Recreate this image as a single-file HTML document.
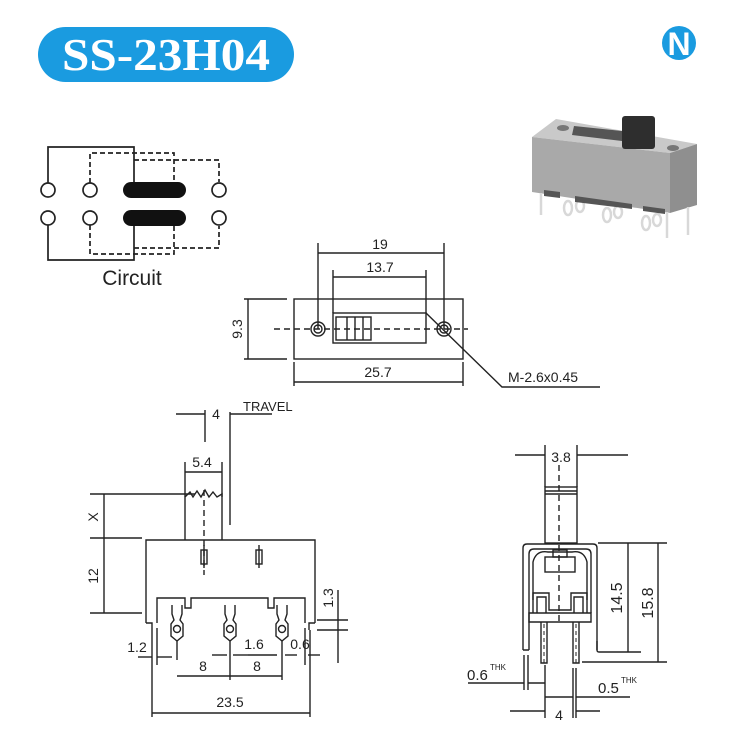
<!DOCTYPE html>
<html><head><meta charset="utf-8"><style>
html,body{margin:0;padding:0;background:#fff;}
svg{display:block;}
text{font-family:"Liberation Sans",sans-serif;fill:#222;}
</style></head><body>
<svg width="735" height="744" viewBox="0 0 735 744" xmlns="http://www.w3.org/2000/svg">
<defs>
<marker id="a" viewBox="0 0 10 10" refX="10" refY="5" markerWidth="8" markerHeight="6" orient="auto-start-reverse" markerUnits="userSpaceOnUse"><path d="M0,1 L10,5 L0,9 z" fill="#222"/></marker>
</defs>
<!-- header -->
<rect x="38" y="27" width="256" height="55" rx="27.5" fill="#1a9be0"/>
<text x="166" y="70" text-anchor="middle" textLength="208" lengthAdjust="spacingAndGlyphs" style="font-family:'Liberation Serif',serif;font-weight:bold;font-size:46px;fill:#fff">SS-23H04</text>
<circle cx="679" cy="43" r="17" fill="#1a9be0"/>
<text x="679" y="55" text-anchor="middle" style="font-family:'Liberation Sans',sans-serif;font-weight:bold;font-size:32px;fill:#fff">N</text>

<g stroke="#222" stroke-width="1.7" fill="none">
<!-- circuit -->
<circle cx="48" cy="190" r="7"/><circle cx="90" cy="190" r="7"/><circle cx="219" cy="190" r="7"/>
<circle cx="48" cy="218" r="7"/><circle cx="90" cy="218" r="7"/><circle cx="219" cy="218" r="7"/>
<path d="M48,183 V147 H134 V182" marker-start="a" marker-end="a"/>
<path d="M48,225 V260 H134 V226" marker-start="a" marker-end="a"/>
<g stroke-dasharray="5,3">
<path d="M90,183 V153 H174 V182" marker-start="a"/>
<path d="M134,160 H219 V182" marker-end="a"/>
<path d="M90,225 V254 H174 V226" marker-start="a"/>
<path d="M134,248 H219 V226" marker-end="a"/>
</g>
</g>
<rect x="123" y="182" width="63" height="16" rx="8" fill="#111"/>
<rect x="123" y="210" width="63" height="16" rx="8" fill="#111"/>
<text x="132" y="285" text-anchor="middle" font-size="21">Circuit</text>

<!-- photo -->
<polygon points="556,119 697,144 670,153 532,137" fill="#c9c9c9"/>
<polygon points="532,137 670,153 670,213 532,192" fill="#a9a9a9"/>
<polygon points="670,153 697,144 697,205 670,213" fill="#8f8f8f"/>
<polygon points="574,126 622,131 622,141 572,135" fill="#555"/>
<rect x="622" y="116" width="33" height="33" rx="3" fill="#2e2e2e"/>
<ellipse cx="563" cy="128" rx="6" ry="3" fill="#777"/>
<ellipse cx="673" cy="148" rx="6" ry="3" fill="#777"/>
<g fill="none" stroke="#d8d8d8" stroke-width="2.5">
<path d="M541,193 V215"/><path d="M688,207 V235"/><path d="M667,212 V238"/>
<ellipse cx="568" cy="208" rx="4" ry="7"/><ellipse cx="580" cy="206" rx="4" ry="6"/>
<ellipse cx="607" cy="215" rx="4" ry="7"/><ellipse cx="618" cy="212" rx="4" ry="6"/>
<ellipse cx="646" cy="223" rx="4" ry="7"/><ellipse cx="657" cy="220" rx="4" ry="6"/>
</g>
<path d="M544,190 L560,192 L560,198 L544,196 z M575,196 L632,204 L632,209 L575,202z M643,206 L665,209 L665,214 L643,211z" fill="#555"/>

<g stroke="#222" stroke-width="1.4" fill="none">
<!-- top view -->
<rect x="294" y="299" width="169" height="60"/>
<rect x="333" y="313" width="93" height="30"/>
<rect x="336" y="317" width="35" height="23"/>
<path d="M347,317 V340 M355,317 V340 M363,317 V340"/>
<circle cx="318" cy="329" r="7"/><circle cx="318" cy="329" r="4"/>
<circle cx="444" cy="329" r="7"/><circle cx="444" cy="329" r="4"/>
<path d="M274,329 H468" stroke-dasharray="6,4"/>
<path d="M318,243 V329 M444,243 V329 M333,270 V313 M426,270 V313"/>
<path d="M318,253 H444" marker-start="a" marker-end="a"/>
<path d="M333,277 H426" marker-start="a" marker-end="a"/>
<path d="M244,299 H287 M244,359 H287"/>
<path d="M248,299 V359" marker-start="a" marker-end="a"/>
<path d="M294,362 V386 M463,362 V386"/>
<path d="M294,382 H463" marker-start="a" marker-end="a"/>
<path d="M426,313 L502,387 H600"/>

<!-- side view -->
<path d="M146,623 V540 H315 V623"/>
<path d="M146,623 H152 V630 M315,623 H309 V630"/>
<path d="M157,623 V598 H185 V608 H191 V598 H268 V608 H274 V598 H305 V623"/>
<path d="M185,540 V497 L190,492 193,497 197,491 201,497 205,490 209,497 213,492 217,497 222,494 V540"/>
<path d="M204,490 V575" stroke-dasharray="6,4"/>
<rect x="201" y="550" width="6" height="14"/><rect x="256" y="550" width="6" height="14"/>
<path d="M204,545 V568 M259,545 V568"/>
<g>
<path d="M172,605 V614 L174,620 L171,624 V636 L177,641 L183,636 V624 L180,620 L182,614 V605"/><circle cx="177" cy="629" r="3.5"/><path d="M177,641 V660"/>
<path d="M225,605 V614 L227,620 L224,624 V636 L230,641 L236,636 V624 L233,620 L235,614 V605"/><circle cx="230" cy="629" r="3.5"/><path d="M230,641 V680"/>
<path d="M277,605 V614 L279,620 L276,624 V636 L282,641 L288,636 V624 L285,620 L287,614 V605"/><circle cx="282" cy="629" r="3.5"/><path d="M282,641 V680"/>
</g>
<path d="M152,630 V665 M157,628 V665 M305,628 V665 M310,630 V665"/>
<path d="M152,665 V717 M310,665 V717"/>
<path d="M205,410 V442 M230,412 V525"/>
<path d="M176,414 H205" marker-end="a"/><path d="M272,414 H230" marker-end="a"/>
<path d="M185,462 V497 M222,462 V497"/>
<path d="M185,472 H222" marker-start="a"/>
<path d="M90,494 H195 M90,538 H142 M90,613 H142"/>
<path d="M104,494 V538" marker-start="a" marker-end="a"/>
<path d="M104,538 V613" marker-start="a" marker-end="a"/>
<path d="M338,590 V663 M317,620 H348 M317,630 H348"/>
<path d="M138,657 H152" marker-end="a"/><path d="M172,657 H157" marker-end="a"/>
<path d="M212,655 H227" marker-end="a"/><path d="M248,655 H233"/><path d="M248,655 H277" marker-end="a"/>
<path d="M297,655 H285" marker-end="a"/><path d="M320,655 H308" marker-end="a"/>
<path d="M177,676 H230" marker-start="a" marker-end="a"/>
<path d="M230,676 H282" marker-start="a" marker-end="a"/>
<path d="M152,713 H310" marker-start="a" marker-end="a"/>

<!-- front view -->
<path d="M545,445 V487 M577,445 V487"/>
<path d="M515,455 H545" marker-end="a"/><path d="M628,455 H577" marker-end="a"/>
<rect x="545" y="487" width="32" height="56"/>
<path d="M545,491 H577 M545,494 H577"/>
<path d="M559,465 V625" stroke-dasharray="6,4"/>
<path d="M523,650 V548 Q523,544 527,544 H593 Q597,544 597,548 V650"/>
<path d="M529,650 V554 Q529,549 534,549 H586 Q591,549 591,554 V613"/>
<path d="M533,600 V562 Q536,550 548,552 H572 Q584,550 587,562 V600"/>
<rect x="553" y="550" width="14" height="7"/>
<rect x="545" y="557" width="30" height="15"/>
<path d="M529,613 H591 V622 H529 z"/>
<path d="M533,613 V593 H549 V610 H571 V593 H587 V613"/>
<path d="M537,613 V597 H546 V613 M574,613 V597 H583 V613"/>
<path d="M541,622 V663 H547 V622 M573,622 V663 H579 V622"/>
<path d="M544,624 V663 M576,624 V663" stroke-dasharray="4,3" stroke-width="1"/>
<path d="M523,650 H529 M597,641 V650 Q597,652 599,652 H641"/>
<path d="M598,543 H667 M582,662 H667"/>
<path d="M628,543 V652" marker-start="a" marker-end="a"/>
<path d="M658,543 V662" marker-start="a" marker-end="a"/>
<path d="M524,655 V690 M528,655 V690"/>
<path d="M468,683 H524" marker-end="a"/><path d="M545,683 H528" marker-end="a"/>
<path d="M545,665 V718 M573,668 V718 M576,668 V718"/>
<path d="M545,697 H573" marker-end="a"/><path d="M630,697 H576" marker-end="a"/>
<path d="M510,711 H545" marker-end="a"/><path d="M600,711 H576" marker-end="a"/>
</g>

<!-- labels -->
<g font-size="14">
<text x="380" y="249" text-anchor="middle">19</text>
<text x="380" y="272" text-anchor="middle">13.7</text>
<text x="378" y="377" text-anchor="middle">25.7</text>
<text x="508" y="382">M-2.6x0.45</text>
<text transform="translate(242,329) rotate(-90)" text-anchor="middle">9.3</text>
<text x="216" y="419" text-anchor="middle">4</text>
<text x="243" y="411" font-size="13">TRAVEL</text>
<text x="202" y="467" text-anchor="middle">5.4</text>
<text transform="translate(98,517) rotate(-90)" text-anchor="middle">X</text>
<text transform="translate(98,576) rotate(-90)" text-anchor="middle">12</text>
<text transform="translate(333,598) rotate(-90)" text-anchor="middle">1.3</text>
<text x="137" y="652" text-anchor="middle">1.2</text>
<text x="254" y="649" text-anchor="middle">1.6</text>
<text x="300" y="649" text-anchor="middle">0.6</text>
<text x="203" y="671" text-anchor="middle">8</text>
<text x="257" y="671" text-anchor="middle">8</text>
<text x="230" y="707" text-anchor="middle">23.5</text>
<text x="561" y="462" text-anchor="middle">3.8</text>
<text transform="translate(622,598) rotate(-90)" text-anchor="middle" font-size="16">14.5</text>
<text transform="translate(653,603) rotate(-90)" text-anchor="middle" font-size="16">15.8</text>
<text x="467" y="680" font-size="15">0.6</text><text x="490" y="670" font-size="8">THK</text>
<text x="598" y="693" font-size="15">0.5</text><text x="621" y="683" font-size="8">THK</text>
<text x="559" y="720" text-anchor="middle">4</text>
</g>
</svg>
</body></html>
